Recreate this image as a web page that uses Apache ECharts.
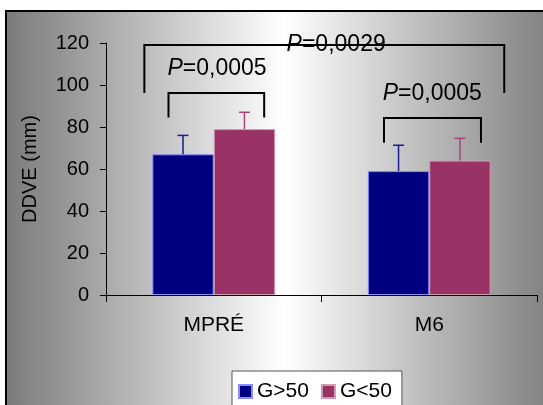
<!DOCTYPE html>
<html>
<head>
<meta charset="utf-8">
<script src="https://cdn.jsdelivr.net/npm/echarts@6/dist/echarts.min.js"></script>
<style>
html,body{margin:0;padding:0;background:#fff;}
#c{width:543px;height:405px;}
</style>
</head>
<body>
<div id="c"></div>
<script>
// ---- data ----
const categories = ['MPRÉ', 'M6'];
const seriesNames = ['G>50', 'G<50'];
const meanAbove50 = [67, 59];
const meanBelow50 = [79, 64];
const sdAbove50 = [9, 12.3];
const sdBelow50 = [8, 10.6];
const yTicks = [0, 20, 40, 60, 80, 100, 120];
const pLabels = ['0,0029', '0,0005', '0,0005'];

// annotation geometry: [category, leftOffset, rightOffset, topValue, bottomValue]
const bracketDefs = [
  [0, -0.322, 1.348, 119, 96.2],
  [0, -0.21, 0.234, 96.2, 84.5],
  [1, -0.21, 0.24, 84.3, 72.5]
];
// label anchors: [category, offset, value]
const labelDefs = [
  [0, 0.568, 119],
  [0, 0.015, 107.6],
  [1, 0.014, 95.7]
];

const FONT = '"Liberation Sans", Arial, sans-serif';
const GAP = 0.43;

const chart = echarts.init(document.getElementById('c'), null, {renderer: 'canvas'});

function errRender(sign, color) {
  return function (params, api) {
    const cw = api.size([1, 0])[0];
    const bw = cw * (1 - GAP) / 2;
    const cx = api.coord([api.value(0), 0])[0] + sign * bw / 2;
    const y0 = api.coord([api.value(0), api.value(1)])[1];
    const y1 = api.coord([api.value(0), api.value(1) + api.value(2)])[1];
    return {
      type: 'group',
      children: [
        {type: 'line', shape: {x1: cx, y1: y0, x2: cx, y2: y1}, style: {stroke: color, lineWidth: 1.5}},
        {type: 'line', shape: {x1: cx - 5.5, y1: y1, x2: cx + 5.5, y2: y1}, style: {stroke: color, lineWidth: 1.5}}
      ]
    };
  };
}

const option = {
  animation: false,
  backgroundColor: '#ffffff',
  graphic: [{
    type: 'rect',
    z: -10,
    shape: {x: 6, y: 11, width: 556, height: 420},
    style: {
      fill: new echarts.graphic.LinearGradient(0, 0, 1, 0, [
        {offset: 0, color: '#7a7a7a'},
        {offset: 0.5, color: '#ffffff'},
        {offset: 1, color: '#7a7a7a'}
      ]),
      stroke: '#000000',
      lineWidth: 2
    }
  }],
  grid: {left: 106, right: 6, top: 43, bottom: 110, containLabel: false},
  legend: {
    data: seriesNames,
    left: 232,
    top: 371,
    padding: [10, 10, 14, 6],
    backgroundColor: '#ffffff',
    borderColor: '#555555',
    borderWidth: 1,
    itemWidth: 13,
    itemHeight: 13,
    itemGap: 12,
    icon: 'rect',
    textStyle: {fontFamily: FONT, fontSize: 21, color: '#000'}
  },
  xAxis: {
    type: 'category',
    data: categories,
    axisLine: {lineStyle: {color: '#000', width: 1}},
    axisTick: {show: true, length: 7, inside: false, lineStyle: {color: '#000'}},
    axisLabel: {fontFamily: FONT, fontSize: 21, color: '#000', margin: 20}
  },
  yAxis: {
    type: 'value',
    min: 0,
    max: 120,
    interval: 20,
    name: 'DDVE (mm)',
    nameLocation: 'middle',
    nameGap: 66,
    nameTextStyle: {fontFamily: FONT, fontSize: 20, color: '#000'},
    axisLine: {show: true, lineStyle: {color: '#000', width: 1}},
    axisTick: {show: true, length: 6, inside: false, lineStyle: {color: '#000'}},
    axisLabel: {fontFamily: FONT, fontSize: 20, color: '#000', margin: 17,
      formatter: function (v) { return yTicks.indexOf(v) >= 0 ? String(v) : ''; }},
    splitLine: {show: false}
  },
  series: [
    {
      name: seriesNames[0],
      type: 'bar',
      data: meanAbove50,
      barGap: '0%',
      barCategoryGap: (GAP * 100) + '%',
      itemStyle: {color: '#000080', borderColor: '#8c8cff', borderWidth: 1}
    },
    {
      name: seriesNames[1],
      type: 'bar',
      data: meanBelow50,
      barGap: '0%',
      barCategoryGap: (GAP * 100) + '%',
      itemStyle: {color: '#993366', borderColor: '#d49ab5', borderWidth: 1}
    },
    {
      type: 'custom',
      name: 'errA',
      z: 3,
      renderItem: errRender(-1, '#1a1a96'),
      encode: {x: 0, y: 1},
      data: categories.map((c, i) => [i, meanAbove50[i], sdAbove50[i]])
    },
    {
      type: 'custom',
      name: 'errB',
      z: 3,
      renderItem: errRender(1, '#a8437a'),
      encode: {x: 0, y: 1},
      data: categories.map((c, i) => [i, meanBelow50[i], sdBelow50[i]])
    },
    {
      type: 'custom',
      name: 'brackets',
      z: 4,
      encode: {x: 0, y: 3},
      renderItem: function (params, api) {
        const cw = api.size([1, 0])[0];
        const c = api.coord([api.value(0), 0])[0];
        const xL = c + api.value(1) * cw;
        const xR = c + api.value(2) * cw;
        const yT = api.coord([api.value(0), api.value(3)])[1];
        const yB = api.coord([api.value(0), api.value(4)])[1];
        return {
          type: 'polyline',
          shape: {points: [[xL, yB], [xL, yT], [xR, yT], [xR, yB]]},
          style: {stroke: '#000', lineWidth: 2, fill: null}
        };
      },
      data: bracketDefs
    },
    {
      type: 'custom',
      name: 'pvalues',
      z: 5,
      encode: {x: 0, y: 2},
      renderItem: function (params, api) {
        const cw = api.size([1, 0])[0];
        const c = api.coord([api.value(0), 0])[0];
        const x = c + api.value(1) * cw;
        const y = api.coord([api.value(0), api.value(2)])[1];
        return {
          type: 'text',
          x: x,
          y: y,
          style: {
            text: '{i|P}{n|=' + pLabels[params.dataIndex] + '}',
            rich: {
              i: {fontStyle: 'italic', fontFamily: FONT, fontSize: 23, fill: '#000'},
              n: {fontFamily: FONT, fontSize: 23, fill: '#000'}
            },
            fontFamily: FONT,
            fontSize: 23,
            fill: '#000',
            align: 'center',
            verticalAlign: 'middle'
          }
        };
      },
      data: labelDefs
    }
  ]
};
chart.setOption(option);
</script>
</body>
</html>
